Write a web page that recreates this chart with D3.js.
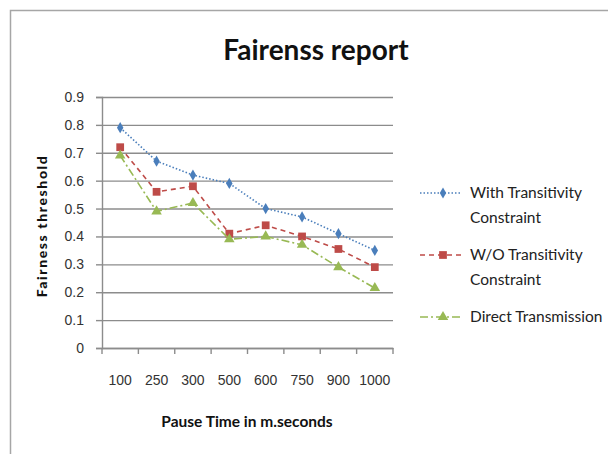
<!DOCTYPE html>
<html>
<head>
<meta charset="utf-8">
<script src="https://cdn.jsdelivr.net/npm/d3@7"></script>
<style>
  body { margin: 0; background: #fff; }
  svg { display: block; font-family: Lato, "Open Sans", sans-serif; }
</style>
</head>
<body>
<div id="chart"></div>
<script>
// données
const pauseTimes = ["100", "250", "300", "500", "600", "750", "900", "1000"];
const withTransitivity = [0.79, 0.67, 0.62, 0.59, 0.50, 0.47, 0.41, 0.35];
const withoutTransitivity = [0.72, 0.56, 0.58, 0.41, 0.44, 0.40, 0.355, 0.29];
const directTransmission = [0.69, 0.49, 0.52, 0.39, 0.40, 0.37, 0.29, 0.215];
const yTicks = [0, 0.1, 0.2, 0.3, 0.4, 0.5, 0.6, 0.7, 0.8, 0.9];

const series = [
    { name: ["With Transitivity", "Constraint"], values: withTransitivity, color: "#4a7ebb", dash: "1.5,2", symbol: d3.symbolDiamond, size: 36 },
    { name: ["W/O Transitivity", "Constraint"], values: withoutTransitivity, color: "#be4b48", dash: "5,4", symbol: d3.symbolSquare, size: 60 },
    { name: ["Direct Transmission"], values: directTransmission, color: "#98b954", dash: "8,3,2,3", symbol: d3.symbolTriangle, size: 48 }
];

const width = 608, height = 454;
const margin = { top: 97, right: 215, bottom: 106, left: 102 };
const chartWidth = width - margin.left - margin.right;
const chartHeight = height - margin.top - margin.bottom;

const svg = d3.select("#chart").append("svg")
    .attr("width", width)
    .attr("height", height);

// cadre du graphique
svg.append("rect")
    .attr("x", 10.5).attr("y", 10.5)
    .attr("width", 620).attr("height", 460)
    .attr("fill", "none")
    .attr("stroke", "#a6a6a6")
    .attr("stroke-width", 1.5);

const g = svg.append("g")
    .attr("transform", `translate(${margin.left},${margin.top})`);

const xScale = d3.scaleBand()
    .domain(pauseTimes)
    .range([0, chartWidth]);

const yScale = d3.scaleLinear()
    .domain([0, 0.9])
    .range([chartHeight, 0]);

// grille horizontale
g.append("g")
    .call(d3.axisLeft(yScale).tickValues(yTicks).tickSize(-chartWidth).tickFormat(""))
    .call(a => a.select(".domain").remove())
    .selectAll("line")
    .attr("stroke", "#8c8c8c")
    .attr("stroke-width", 1.4);

// axe Y
const yAxis = g.append("g")
    .call(d3.axisLeft(yScale).tickValues(yTicks).tickSize(6).tickPadding(12).tickFormat(d => d === 0 ? "0" : d.toFixed(1)));
yAxis.select(".domain").attr("stroke", "#8c8c8c").attr("stroke-width", 1.4);
yAxis.selectAll("line").attr("stroke", "#8c8c8c").attr("stroke-width", 1.4);
yAxis.selectAll("text")
    .style("font-size", "14px")
    .attr("fill", "#333");

// axe X
const xAxis = g.append("g")
    .attr("transform", `translate(0,${chartHeight})`)
    .call(d3.axisBottom(xScale).tickSize(0).tickPadding(27));
xAxis.select(".domain").attr("stroke", "#8c8c8c").attr("stroke-width", 1.4);
xAxis.selectAll("text")
    .style("font-size", "14px")
    .attr("fill", "#333");

// petites graduations entre les catégories
g.append("g")
    .selectAll("line")
    .data(d3.range(pauseTimes.length + 1))
    .enter().append("line")
    .attr("x1", i => i * xScale.bandwidth())
    .attr("x2", i => i * xScale.bandwidth())
    .attr("y1", chartHeight)
    .attr("y2", chartHeight + 6)
    .attr("stroke", "#8c8c8c")
    .attr("stroke-width", 1.4);

const xPos = i => xScale(pauseTimes[i]) + xScale.bandwidth() / 2;

const line = d3.line()
    .x((d, i) => xPos(i))
    .y(d => yScale(d));

series.forEach(s => {
    g.append("path")
        .datum(s.values)
        .attr("d", line)
        .attr("fill", "none")
        .attr("stroke", s.color)
        .attr("stroke-width", 1.6)
        .attr("stroke-dasharray", s.dash);

    g.selectAll(null)
        .data(s.values)
        .enter().append("path")
        .attr("transform", (d, i) => `translate(${xPos(i)},${yScale(d)})`)
        .attr("d", d3.symbol().type(s.symbol).size(s.size))
        .attr("fill", s.color);
});

// légende
const legendRows = [193, 255, 317];
series.forEach((s, i) => {
    const lg = svg.append("g").attr("transform", `translate(420,${legendRows[i]})`);
    lg.append("line")
        .attr("x1", 0).attr("x2", 42)
        .attr("y1", 0).attr("y2", 0)
        .attr("stroke", s.color)
        .attr("stroke-width", 1.6)
        .attr("stroke-dasharray", s.dash);
    lg.append("path")
        .attr("transform", "translate(23,0)")
        .attr("d", d3.symbol().type(s.symbol).size(s.size))
        .attr("fill", s.color);
    s.name.forEach((t, j) => {
        lg.append("text")
            .attr("x", 50)
            .attr("y", j * 25)
            .attr("dy", "0.35em")
            .style("font-size", "15.5px")
            .attr("fill", "#222")
            .text(t);
    });
});

// titre
svg.append("text")
    .attr("x", 316)
    .attr("y", 60)
    .attr("text-anchor", "middle")
    .style("font-size", "28px")
    .style("font-weight", "bold")
    .attr("fill", "#111")
    .text("Fairenss report");

// titres des axes
svg.append("text")
    .attr("x", 247)
    .attr("y", 427)
    .attr("text-anchor", "middle")
    .style("font-size", "15.5px")
    .style("font-weight", "bold")
    .attr("fill", "#111")
    .text("Pause Time in m.seconds");

svg.append("text")
    .attr("transform", "translate(47,226) rotate(-90)")
    .attr("text-anchor", "middle")
    .style("font-size", "14px")
    .style("font-weight", "900")
    .style("letter-spacing", "1.6px")
    .attr("fill", "#111")
    .text("Fairness threshold");
</script>
</body>
</html>
